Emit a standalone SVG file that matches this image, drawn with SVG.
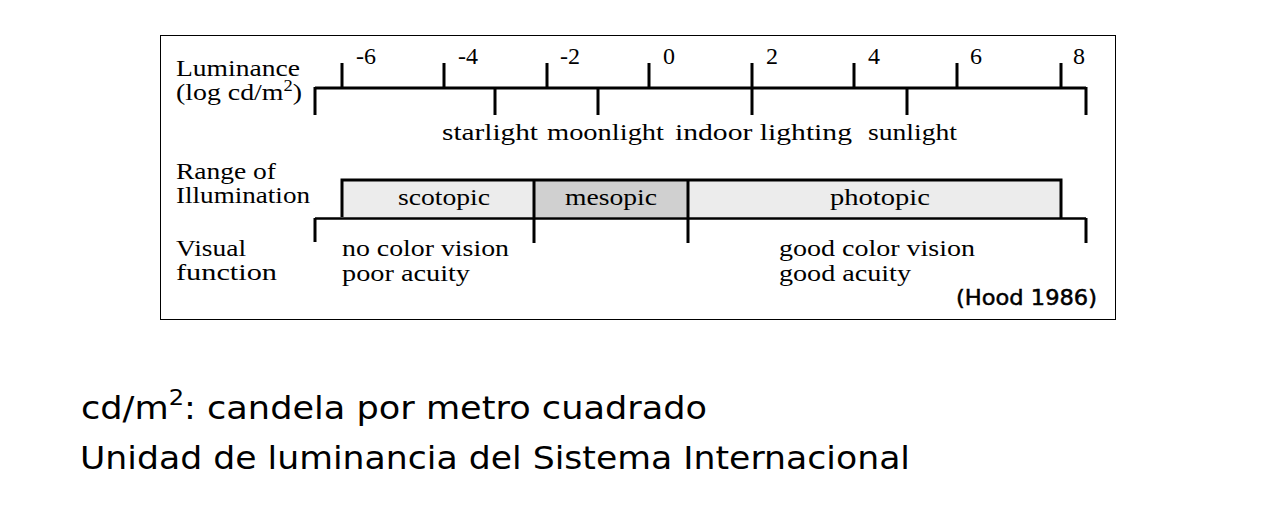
<svg xmlns="http://www.w3.org/2000/svg" width="1286" height="524" viewBox="0 0 1286 524">
<style>
.s{font-family:"Liberation Serif","Times New Roman",serif;font-size:24px;fill:#000}
.n{font-family:"Liberation Serif","Times New Roman",serif;font-size:24px;fill:#000}
.ln{stroke:#000;stroke-width:3;fill:none;stroke-linecap:butt}
.br{stroke:#000;stroke-width:2.5;fill:none}
.b{font-family:"DejaVu Sans",Verdana,sans-serif;font-size:32px;fill:#000}
</style>
<rect x="160.5" y="35.5" width="955" height="284" fill="#fff" stroke="#000" stroke-width="1"/>
<g id="connectors">
<path class="ln" d="M315 88H1086M342 63V88M444 63V88M547 63V88M649 63V88M752 63V115M854 63V88M957 63V88M1061 63V88M315 87V115M495 88V115M598 88V115M907 88V115M1086 87V115"/>
</g>
<g id="axis-labels">
<text class="s" x="176" y="76" textLength="124" lengthAdjust="spacingAndGlyphs">Luminance</text>
<text class="s" x="176" y="100" textLength="126" lengthAdjust="spacingAndGlyphs">(log cd/m<tspan dy="-9" style="font-size:16px">2</tspan><tspan dy="9">)</tspan></text>
<text class="n" x="356" y="64">-6</text>
<text class="n" x="458" y="64">-4</text>
<text class="n" x="560" y="64">-2</text>
<text class="n" x="663" y="64">0</text>
<text class="n" x="766" y="64">2</text>
<text class="n" x="868" y="64">4</text>
<text class="n" x="970" y="64">6</text>
<text class="n" x="1073" y="64">8</text>
<text class="s" x="442" y="140" textLength="96" lengthAdjust="spacingAndGlyphs">starlight</text>
<text class="s" x="547" y="140" textLength="117" lengthAdjust="spacingAndGlyphs">moonlight</text>
<text class="s" x="675" y="140" textLength="177" lengthAdjust="spacingAndGlyphs">indoor lighting</text>
<text class="s" x="868" y="140" textLength="89" lengthAdjust="spacingAndGlyphs">sunlight</text>
</g>
<g id="row-labels">
<text class="s" x="176" y="179" textLength="100" lengthAdjust="spacingAndGlyphs">Range of</text>
<text class="s" x="176" y="203" textLength="134" lengthAdjust="spacingAndGlyphs">Illumination</text>
<text class="s" x="176" y="256" textLength="70" lengthAdjust="spacingAndGlyphs">Visual</text>
<text class="s" x="176" y="280" textLength="101" lengthAdjust="spacingAndGlyphs">function</text>
</g>
<g id="scotopic">
<rect x="342" y="180" width="192" height="37" fill="#ececec"/>
<text class="s" x="398" y="205" textLength="92" lengthAdjust="spacingAndGlyphs">scotopic</text>
</g>
<g id="mesopic">
<rect x="534" y="180" width="154" height="37" fill="#d0d0d0"/>
<text class="s" x="565" y="205" textLength="92" lengthAdjust="spacingAndGlyphs">mesopic</text>
</g>
<g id="photopic">
<rect x="688" y="180" width="373" height="37" fill="#ececec"/>
<text class="s" x="830" y="205" textLength="100" lengthAdjust="spacingAndGlyphs">photopic</text>
</g>
<g id="bar-lines">
<path class="ln" d="M340.5 180H1062.5M342 180V217M534 180V243M688 180V243M1061 180V218"/>
<path class="br" d="M315 218.5H1086"/>
<path class="ln" d="M315 218V242M1086 218V243"/>
</g>
<g id="visual-function">
<text class="s" x="342" y="256" textLength="167" lengthAdjust="spacingAndGlyphs">no color vision</text>
<text class="s" x="342" y="281" textLength="128" lengthAdjust="spacingAndGlyphs">poor acuity</text>
<text class="s" x="779" y="256" textLength="196" lengthAdjust="spacingAndGlyphs">good color vision</text>
<text class="s" x="779" y="281" textLength="132" lengthAdjust="spacingAndGlyphs">good acuity</text>
</g>
<text x="956" y="305" font-family="DejaVu Sans,Verdana,sans-serif" font-size="22" textLength="141" lengthAdjust="spacingAndGlyphs" fill="#000" stroke="#000" stroke-width="0.5">(Hood 1986)</text>
<g id="notes">
<text class="b" x="81" y="419" textLength="626" lengthAdjust="spacingAndGlyphs">cd/m<tspan dy="-14" style="font-size:22px">2</tspan><tspan dy="14">: candela por metro cuadrado</tspan></text>
<text class="b" x="80" y="469" textLength="830" lengthAdjust="spacingAndGlyphs">Unidad de luminancia del Sistema Internacional</text>
</g>
</svg>
